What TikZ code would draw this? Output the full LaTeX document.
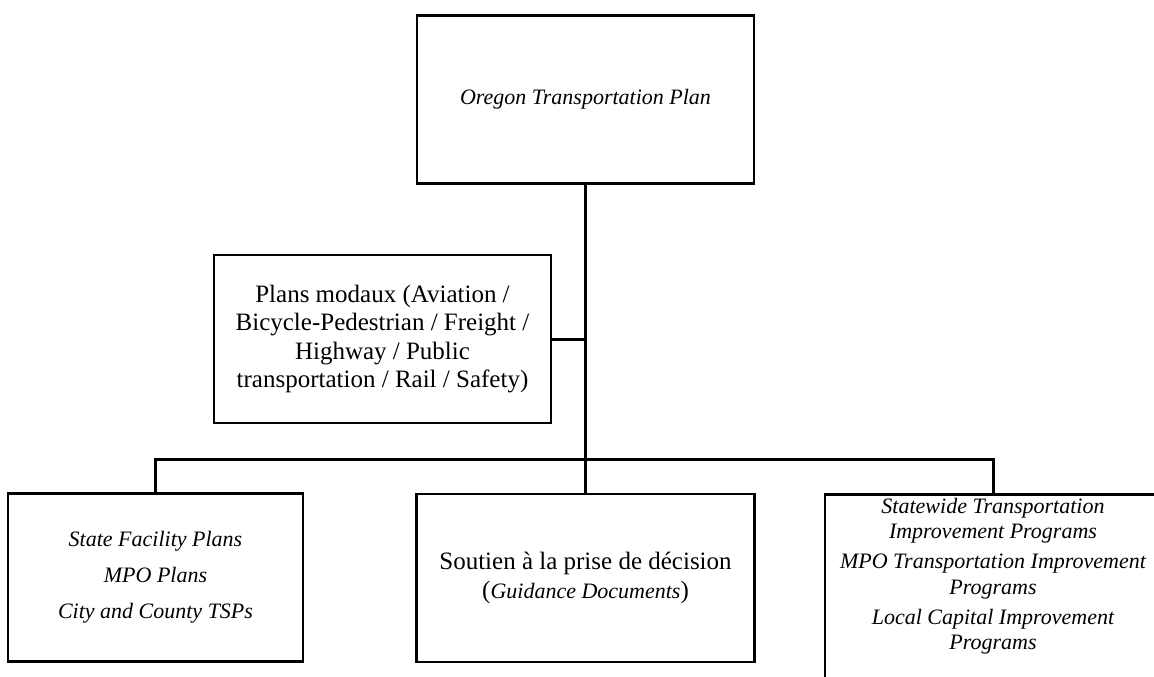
\documentclass[tikz,border=0pt]{standalone}
\usepackage{fontspec}
\setmainfont{Liberation Serif}
\usepackage{tikz}
\usetikzlibrary{positioning,calc}

\newcommand{\itfont}{\itshape\fontsize{22}{25.5}\selectfont}

\tikzset{
  planbox/.style={draw, line width=2.8pt, align=center, inner sep=0pt,
    minimum height=168pt, font=\fontsize{25}{28.5}\selectfont},
  italbox/.style={planbox, font=\itfont},
  link/.style={line width=3pt},
}

\begin{document}
\begin{tikzpicture}[x=1pt,y=-1pt]
  \useasboundingbox (0,0) rectangle (1154,677);
  \clip (0,0) rectangle (1154,677);

  % boxes
  \node[italbox, minimum width=337pt] (otp) at (585.5,99.5) {Oregon Transportation Plan};
  \node[planbox, minimum width=337pt] (modal) at (382.5,339)
    {Plans modaux (Aviation /\\ Bicycle-Pedestrian / Freight /\\ Highway / Public\\ transportation / Rail / Safety)};
  \node[italbox, minimum width=295pt] (sfp) at (155.5,577.5)
    {State Facility Plans\\[10.5pt] MPO Plans\\[10.5pt] City and County TSPs};
  \node[planbox, minimum width=338pt] (guide) at (585.5,578)
    {Soutien à la prise de décision\\ ({\itfont Guidance Documents})};
  \node[planbox, anchor=north, minimum width=336pt, minimum height=230pt] (stip) at (993,493) {};
  \node[align=center, inner sep=0pt, font=\itfont] (stiptext) at (993,576)
    {Statewide Transportation\\ Improvement Programs\\[4.5pt]
     MPO Transportation Improvement\\ Programs\\[4.5pt]
     Local Capital Improvement\\ Programs};

  % connectors
  \coordinate (bar) at (585.5,459);
  \draw[link] (otp.south) -- (bar);
  \draw[link] (modal.east) -- (modal.east -| otp.south);
  \draw[link] (sfp.north) -- (sfp.north |- bar) -- (stip.north |- bar) -- (stip.north);
  \draw[link] (bar) -- (guide.north);
\end{tikzpicture}
\end{document}
